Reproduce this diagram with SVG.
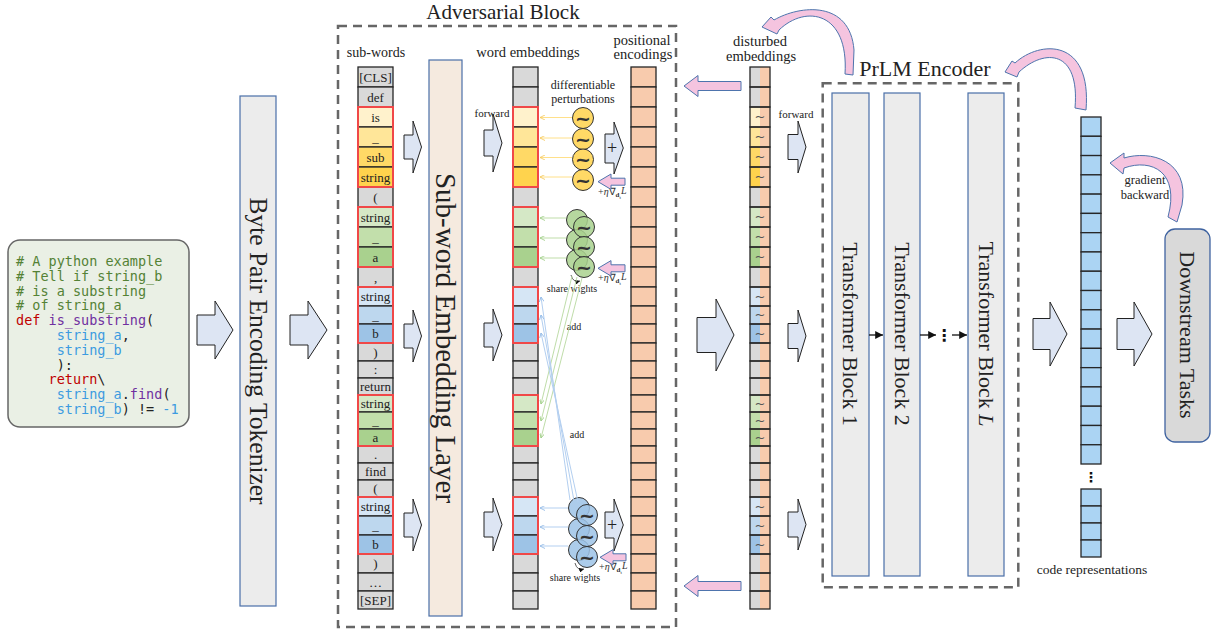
<svg xmlns="http://www.w3.org/2000/svg" width="1214" height="633" viewBox="0 0 1214 633">
<style>
.t{font-family:"Liberation Serif","Times New Roman",serif;fill:#222}
.mono{font-family:"DejaVu Sans Mono","Liberation Mono",monospace;font-size:13.5px}
.c{stroke:#262626;stroke-width:1.3}
.o{fill:none;stroke:#262626;stroke-width:1.3}
.gy{fill:#d9d9d9}.y1{fill:#fff2cc}.y2{fill:#ffe699}.y3{fill:#ffd966}.y4{fill:#ffd34d}
.g1{fill:#d5e8c6}.g2{fill:#c2dfab}.g3{fill:#a9d18e}
.b1{fill:#d6e6f5}.b2{fill:#bdd7ee}.b3{fill:#9dc3e6}
.pe{fill:#f8cbad}.cr{fill:#abd4f3}
.red{fill:none;stroke:#f04848;stroke-width:2}
.ba{fill:#dde5f3;stroke:#222;stroke-width:1}
.pk{fill:#f5c4df;stroke:#4e74ad;stroke-width:1}
.blk{stroke:#4a6fa8;stroke-width:1.2}
.dash{fill:none;stroke:#666;stroke-width:2.5;stroke-dasharray:9 6}
.sw{font-family:"Liberation Serif",serif;font-size:13px;fill:#222;text-anchor:middle}
.til{font-family:"DejaVu Sans",sans-serif;font-size:19px;font-weight:bold;fill:#333;text-anchor:middle}
.dt{font-family:"DejaVu Sans",sans-serif;font-size:13px;fill:#555;text-anchor:middle}
.eta{font-family:"Liberation Serif",serif;font-size:10px;fill:#333}
.cy{fill:#ffd966;stroke:#333;stroke-width:1}
.cg{fill:#a9d18e;stroke:#333;stroke-width:1;fill-opacity:0.85}
.cb{fill:#9dc3e6;stroke:#333;stroke-width:1;fill-opacity:0.85}
</style>
<defs>
<marker id="mk" viewBox="0 0 6 6" refX="6" refY="3" markerWidth="6" markerHeight="6" orient="auto"><path d="M0,0 L6,3 L0,6 z" fill="#111"/></marker>
<marker id="my" viewBox="0 0 6 6" refX="6" refY="3" markerWidth="5" markerHeight="5" orient="auto"><path d="M0,0 L6,3 L0,6" fill="none" stroke="#f5c95a" stroke-width="1"/></marker>
<marker id="mg" viewBox="0 0 6 6" refX="6" refY="3" markerWidth="5" markerHeight="5" orient="auto"><path d="M0,0 L6,3 L0,6" fill="none" stroke="#9cce84" stroke-width="1"/></marker>
<marker id="mb" viewBox="0 0 6 6" refX="6" refY="3" markerWidth="5" markerHeight="5" orient="auto"><path d="M0,0 L6,3 L0,6" fill="none" stroke="#8fb8e6" stroke-width="1"/></marker>
</defs>

<!-- code box -->
<g id="code">
<rect x="8" y="240" width="181" height="187" rx="12" fill="#eaf0e5" stroke="#666" stroke-width="1.5"/>
<g class="mono">
<text x="16" y="266" fill="#548235"># A python example</text>
<text x="16" y="280.8" fill="#548235"># Tell if string_b</text>
<text x="16" y="295.6" fill="#548235"># is a substring</text>
<text x="16" y="310.4" fill="#548235"># of string_a</text>
<text x="16" y="325.2"><tspan fill="#c00000">def</tspan> <tspan fill="#7030a0">is_substring</tspan><tspan fill="#222">(</tspan></text>
<text x="56.7" y="340" fill="#222"><tspan fill="#3c9be0">string_a</tspan>,</text>
<text x="56.7" y="354.8" fill="#3c9be0">string_b</text>
<text x="56.7" y="369.6" fill="#222">):</text>
<text x="48.5" y="384.4" fill="#222"><tspan fill="#c00000">return</tspan>\</text>
<text x="56.7" y="399.2" fill="#222"><tspan fill="#3c9be0">string_a</tspan>.<tspan fill="#7030a0">find</tspan>(</text>
<text x="56.7" y="414" fill="#222"><tspan fill="#3c9be0">string_b</tspan>) != <tspan fill="#3c9be0">-1</tspan></text>
</g>
</g>

<!-- tokenizer -->
<g id="tokenizer">
<rect x="240" y="96" width="36" height="510" fill="#ececec" class="blk"/>
<text class="t" font-size="25.5" text-anchor="middle" transform="translate(258,351) rotate(90)" y="8.5">Byte Pair Encoding Tokenizer</text>
</g>

<!-- Adversarial block -->
<g id="adversarial-block">
<rect x="338" y="26" width="338" height="601" class="dash"/>
<text class="t" x="503" y="19" font-size="21" text-anchor="middle">Adversarial Block</text>
</g>

<!-- sub-words -->
<g id="sub-words">
<text class="t" x="376" y="57" font-size="14" text-anchor="middle">sub-words</text>
<rect x="358" y="67" width="35" height="20" class="c gy"/>
<rect x="358" y="87" width="35" height="20" class="c gy"/>
<rect x="358" y="107" width="35" height="20" class="c y1"/>
<rect x="358" y="127" width="35" height="20" class="c y2"/>
<rect x="358" y="147" width="35" height="20" class="c y3"/>
<rect x="358" y="167" width="35" height="20" class="c y4"/>
<rect x="358" y="187" width="35" height="20" class="c gy"/>
<rect x="358" y="207" width="35" height="20" class="c g1"/>
<rect x="358" y="227" width="35" height="20" class="c g2"/>
<rect x="358" y="247" width="35" height="20" class="c g3"/>
<rect x="358" y="267" width="35" height="20" class="c gy"/>
<rect x="358" y="287" width="35" height="19" class="c b1"/>
<rect x="358" y="306" width="35" height="18" class="c b2"/>
<rect x="358" y="324" width="35" height="19" class="c b3"/>
<rect x="358" y="343" width="35" height="18" class="c gy"/>
<rect x="358" y="361" width="35" height="17" class="c gy"/>
<rect x="358" y="378" width="35" height="17" class="c gy"/>
<rect x="358" y="395" width="35" height="17" class="c g1"/>
<rect x="358" y="412" width="35" height="17" class="c g2"/>
<rect x="358" y="429" width="35" height="17" class="c g3"/>
<rect x="358" y="446" width="35" height="17" class="c gy"/>
<rect x="358" y="463" width="35" height="17" class="c gy"/>
<rect x="358" y="480" width="35" height="17" class="c gy"/>
<rect x="358" y="497" width="35" height="19" class="c b1"/>
<rect x="358" y="516" width="35" height="19" class="c b2"/>
<rect x="358" y="535" width="35" height="19" class="c b3"/>
<rect x="358" y="554" width="35" height="19" class="c gy"/>
<rect x="358" y="573" width="35" height="18" class="c gy"/>
<rect x="358" y="591" width="35" height="18" class="c gy"/>
<rect x="358" y="107" width="35" height="80" class="red"/>
<rect x="358" y="207" width="35" height="60" class="red"/>
<rect x="358" y="287" width="35" height="56" class="red"/>
<rect x="358" y="395" width="35" height="51" class="red"/>
<rect x="358" y="497" width="35" height="57" class="red"/>
<g class="sw">
<text x="375.5" y="81.5">[CLS]</text>
<text x="375.5" y="101.5">def</text>
<text x="375.5" y="121.5">is</text>
<text x="375.5" y="141.5">_</text>
<text x="375.5" y="161.5">sub</text>
<text x="375.5" y="181.5">string</text>
<text x="375.5" y="201.5">(</text>
<text x="375.5" y="221.5">string</text>
<text x="375.5" y="241.5">_</text>
<text x="375.5" y="261.5">a</text>
<text x="375.5" y="281.5">,</text>
<text x="375.5" y="301">string</text>
<text x="375.5" y="319.5">_</text>
<text x="375.5" y="338">b</text>
<text x="375.5" y="356.5">)</text>
<text x="375.5" y="374">:</text>
<text x="375.5" y="391">return</text>
<text x="375.5" y="408">string</text>
<text x="375.5" y="425">_</text>
<text x="375.5" y="442">a</text>
<text x="375.5" y="459">.</text>
<text x="375.5" y="476">find</text>
<text x="375.5" y="493">(</text>
<text x="375.5" y="511">string</text>
<text x="375.5" y="530">_</text>
<text x="375.5" y="549">b</text>
<text x="375.5" y="568">)</text>
<text x="375.5" y="586.5">…</text>
<text x="375.5" y="604.5">[SEP]</text>
</g>
</g>

<!-- sub-word embedding layer -->
<g id="embedding-layer">
<rect x="429" y="60" width="33" height="556" fill="#f5eadf" class="blk"/>
<text class="t" font-size="29" text-anchor="middle" transform="translate(445.5,338) rotate(90)" y="10">Sub-word Embedding Layer</text>
</g>

<!-- word embeddings -->
<g id="word-embeddings">
<text class="t" x="528" y="57" font-size="14.5" text-anchor="middle">word embeddings</text>
<rect x="513" y="67" width="25" height="20" class="c gy"/>
<rect x="513" y="87" width="25" height="20" class="c gy"/>
<rect x="513" y="107" width="25" height="20" class="c y1"/>
<rect x="513" y="127" width="25" height="20" class="c y2"/>
<rect x="513" y="147" width="25" height="20" class="c y3"/>
<rect x="513" y="167" width="25" height="20" class="c y4"/>
<rect x="513" y="187" width="25" height="20" class="c gy"/>
<rect x="513" y="207" width="25" height="20" class="c g1"/>
<rect x="513" y="227" width="25" height="20" class="c g2"/>
<rect x="513" y="247" width="25" height="20" class="c g3"/>
<rect x="513" y="267" width="25" height="20" class="c gy"/>
<rect x="513" y="287" width="25" height="19" class="c b1"/>
<rect x="513" y="306" width="25" height="18" class="c b2"/>
<rect x="513" y="324" width="25" height="19" class="c b3"/>
<rect x="513" y="343" width="25" height="18" class="c gy"/>
<rect x="513" y="361" width="25" height="17" class="c gy"/>
<rect x="513" y="378" width="25" height="17" class="c gy"/>
<rect x="513" y="395" width="25" height="17" class="c g1"/>
<rect x="513" y="412" width="25" height="17" class="c g2"/>
<rect x="513" y="429" width="25" height="17" class="c g3"/>
<rect x="513" y="446" width="25" height="17" class="c gy"/>
<rect x="513" y="463" width="25" height="17" class="c gy"/>
<rect x="513" y="480" width="25" height="17" class="c gy"/>
<rect x="513" y="497" width="25" height="19" class="c b1"/>
<rect x="513" y="516" width="25" height="19" class="c b2"/>
<rect x="513" y="535" width="25" height="19" class="c b3"/>
<rect x="513" y="554" width="25" height="19" class="c gy"/>
<rect x="513" y="573" width="25" height="18" class="c gy"/>
<rect x="513" y="591" width="25" height="18" class="c gy"/>
<rect x="513" y="107" width="25" height="80" class="red"/>
<rect x="513" y="207" width="25" height="60" class="red"/>
<rect x="513" y="287" width="25" height="56" class="red"/>
<rect x="513" y="395" width="25" height="51" class="red"/>
<rect x="513" y="497" width="25" height="57" class="red"/>
</g>

<!-- positional encodings -->
<g id="positional-encodings">
<text class="t" x="642" y="45" font-size="14.5" text-anchor="middle">positional</text>
<text class="t" x="643" y="59" font-size="14.5" text-anchor="middle">encodings</text>
<g class="c pe">
<rect x="631" y="67" width="25" height="20"/>
<rect x="631" y="87" width="25" height="20"/>
<rect x="631" y="107" width="25" height="20"/>
<rect x="631" y="127" width="25" height="20"/>
<rect x="631" y="147" width="25" height="20"/>
<rect x="631" y="167" width="25" height="20"/>
<rect x="631" y="187" width="25" height="20"/>
<rect x="631" y="207" width="25" height="20"/>
<rect x="631" y="227" width="25" height="20"/>
<rect x="631" y="247" width="25" height="20"/>
<rect x="631" y="267" width="25" height="20"/>
<rect x="631" y="287" width="25" height="19"/>
<rect x="631" y="306" width="25" height="18"/>
<rect x="631" y="324" width="25" height="19"/>
<rect x="631" y="343" width="25" height="18"/>
<rect x="631" y="361" width="25" height="17"/>
<rect x="631" y="378" width="25" height="17"/>
<rect x="631" y="395" width="25" height="17"/>
<rect x="631" y="412" width="25" height="17"/>
<rect x="631" y="429" width="25" height="17"/>
<rect x="631" y="446" width="25" height="17"/>
<rect x="631" y="463" width="25" height="17"/>
<rect x="631" y="480" width="25" height="17"/>
<rect x="631" y="497" width="25" height="19"/>
<rect x="631" y="516" width="25" height="19"/>
<rect x="631" y="535" width="25" height="19"/>
<rect x="631" y="554" width="25" height="19"/>
<rect x="631" y="573" width="25" height="18"/>
<rect x="631" y="591" width="25" height="18"/>
</g>
</g>

<!-- perturbations -->
<g id="perturbations">
<text class="t" x="583" y="89" font-size="12" text-anchor="middle">differentiable</text>
<text class="t" x="583" y="103" font-size="12" text-anchor="middle">perturbations</text>
<circle cx="583" cy="118" r="10.5" class="cy"/>
<circle cx="583" cy="139" r="10.5" class="cy"/>
<circle cx="583" cy="159.5" r="10.5" class="cy"/>
<circle cx="583" cy="180" r="10.5" class="cy"/>
<text class="til" x="583" y="124.5">~</text>
<text class="til" x="583" y="145.5">~</text>
<text class="til" x="583" y="166">~</text>
<text class="til" x="583" y="186.5">~</text>

<circle cx="577" cy="220" r="10.5" class="cg"/>
<circle cx="577" cy="240" r="10.5" class="cg"/>
<circle cx="577" cy="260" r="10.5" class="cg"/>
<circle cx="584" cy="227" r="10.5" class="cg"/>
<circle cx="584" cy="247" r="10.5" class="cg"/>
<circle cx="584" cy="267" r="10.5" class="cg"/>
<text class="til" x="584" y="233.5">~</text>
<text class="til" x="584" y="253.5">~</text>
<text class="til" x="584" y="273.5">~</text>
<path d="M571,275 Q573,283 580,281" fill="none" stroke="#333" stroke-width="0.8" marker-end="url(#mk)"/>
<text class="t" x="572" y="292" font-size="10" text-anchor="middle">share wights</text>

<circle cx="579" cy="508" r="10.5" class="cb"/>
<circle cx="579" cy="529" r="10.5" class="cb"/>
<circle cx="579" cy="550" r="10.5" class="cb"/>
<circle cx="587" cy="515" r="10.5" class="cb"/>
<circle cx="587" cy="536" r="10.5" class="cb"/>
<circle cx="587" cy="557" r="10.5" class="cb"/>
<text class="til" x="587" y="521.5">~</text>
<text class="til" x="587" y="542.5">~</text>
<text class="til" x="587" y="563.5">~</text>
<path d="M575,563 Q577,571 584,569" fill="none" stroke="#333" stroke-width="0.8" marker-end="url(#mk)"/>
<text class="t" x="575" y="581" font-size="10" text-anchor="middle">share wights</text>

<text class="t" x="574" y="330" font-size="10" text-anchor="middle">add</text>
<text class="t" x="577" y="438" font-size="10" text-anchor="middle">add</text>

<text class="eta" x="598" y="195">+<tspan font-style="italic">η</tspan>∇<tspan font-size="7" font-weight="bold" dy="2">d</tspan><tspan font-size="5" dy="1.5">t</tspan><tspan font-style="italic" dy="-5" font-size="10">L</tspan></text>
<text class="eta" x="598" y="281">+<tspan font-style="italic">η</tspan>∇<tspan font-size="7" font-weight="bold" dy="2">d</tspan><tspan font-size="5" dy="1.5">t</tspan><tspan font-style="italic" dy="-5" font-size="10">L</tspan></text>
<text class="eta" x="599" y="570">+<tspan font-style="italic">η</tspan>∇<tspan font-size="7" font-weight="bold" dy="2">d</tspan><tspan font-size="5" dy="1.5">t</tspan><tspan font-style="italic" dy="-5" font-size="10">L</tspan></text>
</g>

<!-- disturbed embeddings -->
<g id="disturbed-embeddings">
<text class="t" x="760" y="46" font-size="14.5" text-anchor="middle">disturbed</text>
<text class="t" x="761" y="61" font-size="14.5" text-anchor="middle">embeddings</text>
<rect x="760" y="67" width="10" height="542" class="pe"/>
<rect x="750" y="67" width="10" height="20" class="gy"/>
<rect x="750" y="87" width="10" height="20" class="gy"/>
<rect x="750" y="107" width="10" height="20" class="y1"/>
<rect x="750" y="127" width="10" height="20" class="y2"/>
<rect x="750" y="147" width="10" height="20" class="y3"/>
<rect x="750" y="167" width="10" height="20" class="y4"/>
<rect x="750" y="187" width="10" height="20" class="gy"/>
<rect x="750" y="207" width="10" height="20" class="g1"/>
<rect x="750" y="227" width="10" height="20" class="g2"/>
<rect x="750" y="247" width="10" height="20" class="g3"/>
<rect x="750" y="267" width="10" height="20" class="gy"/>
<rect x="750" y="287" width="10" height="19" class="b1"/>
<rect x="750" y="306" width="10" height="18" class="b2"/>
<rect x="750" y="324" width="10" height="19" class="b3"/>
<rect x="750" y="343" width="10" height="18" class="gy"/>
<rect x="750" y="361" width="10" height="17" class="gy"/>
<rect x="750" y="378" width="10" height="17" class="gy"/>
<rect x="750" y="395" width="10" height="17" class="g1"/>
<rect x="750" y="412" width="10" height="17" class="g2"/>
<rect x="750" y="429" width="10" height="17" class="g3"/>
<rect x="750" y="446" width="10" height="17" class="gy"/>
<rect x="750" y="463" width="10" height="17" class="gy"/>
<rect x="750" y="480" width="10" height="17" class="gy"/>
<rect x="750" y="497" width="10" height="19" class="b1"/>
<rect x="750" y="516" width="10" height="19" class="b2"/>
<rect x="750" y="535" width="10" height="19" class="b3"/>
<rect x="750" y="554" width="10" height="19" class="gy"/>
<rect x="750" y="573" width="10" height="18" class="gy"/>
<rect x="750" y="591" width="10" height="18" class="gy"/>
<g class="o">
<rect x="750" y="67" width="20" height="20"/>
<rect x="750" y="87" width="20" height="20"/>
<rect x="750" y="107" width="20" height="20"/>
<rect x="750" y="127" width="20" height="20"/>
<rect x="750" y="147" width="20" height="20"/>
<rect x="750" y="167" width="20" height="20"/>
<rect x="750" y="187" width="20" height="20"/>
<rect x="750" y="207" width="20" height="20"/>
<rect x="750" y="227" width="20" height="20"/>
<rect x="750" y="247" width="20" height="20"/>
<rect x="750" y="267" width="20" height="20"/>
<rect x="750" y="287" width="20" height="19"/>
<rect x="750" y="306" width="20" height="18"/>
<rect x="750" y="324" width="20" height="19"/>
<rect x="750" y="343" width="20" height="18"/>
<rect x="750" y="361" width="20" height="17"/>
<rect x="750" y="378" width="20" height="17"/>
<rect x="750" y="395" width="20" height="17"/>
<rect x="750" y="412" width="20" height="17"/>
<rect x="750" y="429" width="20" height="17"/>
<rect x="750" y="446" width="20" height="17"/>
<rect x="750" y="463" width="20" height="17"/>
<rect x="750" y="480" width="20" height="17"/>
<rect x="750" y="497" width="20" height="19"/>
<rect x="750" y="516" width="20" height="19"/>
<rect x="750" y="535" width="20" height="19"/>
<rect x="750" y="554" width="20" height="19"/>
<rect x="750" y="573" width="20" height="18"/>
<rect x="750" y="591" width="20" height="18"/>
</g>
<g class="dt">
<text x="760" y="121">~</text><text x="760" y="141">~</text><text x="760" y="161">~</text><text x="760" y="181">~</text>
<text x="760" y="221">~</text><text x="760" y="241">~</text><text x="760" y="261">~</text>
<text x="760" y="300.5">~</text><text x="760" y="319">~</text><text x="760" y="337.5">~</text>
<text x="760" y="407.5">~</text><text x="760" y="424.5">~</text><text x="760" y="441.5">~</text>
<text x="760" y="510.5">~</text><text x="760" y="529.5">~</text><text x="760" y="548.5">~</text>
</g>
</g>

<!-- PrLM encoder -->
<g id="prlm-encoder">
<rect x="822.7" y="83.3" width="195.6" height="504" class="dash"/>
<text class="t" x="925" y="76" font-size="22" text-anchor="middle">PrLM Encoder</text>
</g>
<g id="block-1">
<rect x="832" y="93" width="37" height="483" fill="#ececec" class="blk"/>
<text class="t" font-size="22" text-anchor="middle" transform="translate(850.5,334) rotate(90)" y="7.5">Transformer Block 1</text>
</g>
<g id="block-2">
<rect x="884" y="93" width="36" height="483" fill="#ececec" class="blk"/>
<text class="t" font-size="22" text-anchor="middle" transform="translate(902,334) rotate(90)" y="7.5">Transformer Block 2</text>
</g>
<g id="block-L">
<rect x="968" y="93" width="36" height="483" fill="#ececec" class="blk"/>
<text class="t" font-size="22" text-anchor="middle" transform="translate(986,334) rotate(90)" y="7.5">Transformer Block <tspan font-style="italic">L</tspan></text>
</g>

<!-- code representations -->
<g id="code-representations">
<g class="c cr">
<rect x="1081" y="117" width="20" height="19.28"/>
<rect x="1081" y="136.28" width="20" height="19.28"/>
<rect x="1081" y="155.56" width="20" height="19.28"/>
<rect x="1081" y="174.84" width="20" height="19.28"/>
<rect x="1081" y="194.12" width="20" height="19.28"/>
<rect x="1081" y="213.4" width="20" height="19.28"/>
<rect x="1081" y="232.68" width="20" height="19.28"/>
<rect x="1081" y="251.96" width="20" height="19.28"/>
<rect x="1081" y="271.24" width="20" height="19.28"/>
<rect x="1081" y="290.52" width="20" height="19.28"/>
<rect x="1081" y="309.8" width="20" height="19.28"/>
<rect x="1081" y="329.08" width="20" height="19.28"/>
<rect x="1081" y="348.36" width="20" height="19.28"/>
<rect x="1081" y="367.64" width="20" height="19.28"/>
<rect x="1081" y="386.92" width="20" height="19.28"/>
<rect x="1081" y="406.2" width="20" height="19.28"/>
<rect x="1081" y="425.48" width="20" height="19.28"/>
<rect x="1081" y="444.76" width="20" height="19.24"/>
<rect x="1081" y="489" width="20" height="17"/>
<rect x="1081" y="506" width="20" height="17"/>
<rect x="1081" y="523" width="20" height="17"/>
<rect x="1081" y="540" width="20" height="17"/>
</g>
<text x="1091" y="482" font-family="DejaVu Sans,sans-serif" font-size="14" font-weight="bold" fill="#111" text-anchor="middle">⋮</text>
<text class="t" x="1092" y="574" font-size="13.5" text-anchor="middle">code representations</text>
</g>

<!-- downstream -->
<g id="downstream">
<rect x="1165" y="229" width="45" height="213" rx="10" fill="#d9d9d9" stroke="#3f63a0" stroke-width="1.3"/>
<text class="t" font-size="22" text-anchor="middle" transform="translate(1187.5,335) rotate(90)" y="7.5">Downstream Tasks</text>
</g>

<!-- connectors -->
<g id="connectors">
<polygon class="ba" points="197,315 215,315 215,301 233,330 215,359 215,345 197,345"/>
<polygon class="ba" points="290,315 308,315 308,301 327,330 308,359 308,345 290,345"/>
<polygon class="ba" points="404,135 413,135 413,121 421.5,147 413,173 413,159 404,159"/>
<polygon class="ba" points="404,324 413,324 413,310 421.5,336 413,362 413,348 404,348"/>
<polygon class="ba" points="404,513 413,513 413,499 421.5,525 413,551 413,537 404,537"/>
<text class="t" x="492" y="117" font-size="11" text-anchor="middle">forward</text>
<polygon class="ba" points="484,130 493,130 493,114 502,143 493,172 493,156 484,156"/>
<polygon class="ba" points="484,323 493,323 493,309 502,335 493,361 493,347 484,347"/>
<polygon class="ba" points="484,512 493,512 493,498 502,524.5 493,551 493,537 484,537"/>
<polygon class="ba" points="605,134 614,134 614,122 623.3,148 614,174 614,163 605,163"/>
<polygon class="ba" points="605,512 614,512 614,499 623.3,525 614,551 614,538 605,538"/>
<text class="t" x="612" y="154" font-size="18" text-anchor="middle">+</text>
<text class="t" x="612" y="531" font-size="18" text-anchor="middle">+</text>
<polygon class="ba" points="697,317.5 716,317.5 716,299 734,335 716,371 716,352.5 697,352.5"/>
<text class="t" x="796" y="118" font-size="11" text-anchor="middle">forward</text>
<polygon class="ba" points="788,134.5 798,134.5 798,121 806,147 798,173 798,159.5 788,159.5"/>
<polygon class="ba" points="788,323.5 798,323.5 798,310 806,336 798,362 798,348.5 788,348.5"/>
<polygon class="ba" points="788,512 798,512 798,499 806,524.5 798,550 798,537 788,537"/>
<polygon class="ba" points="1033,318.5 1050,318.5 1050,302 1067,334 1050,366 1050,349.5 1033,349.5"/>
<polygon class="ba" points="1117,318.5 1134,318.5 1134,302 1152,334 1134,366 1134,349.5 1117,349.5"/>

<!-- perturbation arrows -->
<g stroke="#ffe08a" stroke-width="1" marker-end="url(#my)">
<line x1="572" y1="117.5" x2="540" y2="117.5"/>
<line x1="572" y1="138" x2="540" y2="138"/>
<line x1="572" y1="157.5" x2="540" y2="157.5"/>
<line x1="572" y1="177" x2="540" y2="177"/>
</g>
<g stroke="#bfdda9" stroke-width="1" marker-end="url(#mg)">
<line x1="566" y1="218" x2="540" y2="218"/>
<line x1="566" y1="238" x2="540" y2="238"/>
<line x1="566" y1="258" x2="540" y2="258"/>
<line x1="572" y1="276" x2="541" y2="404"/>
<line x1="577" y1="277" x2="541" y2="421"/>
<line x1="582" y1="278" x2="541" y2="438"/>
</g>
<g stroke="#b3cff0" stroke-width="1" marker-end="url(#mb)">
<line x1="568" y1="508" x2="540" y2="508"/>
<line x1="568" y1="527" x2="540" y2="527"/>
<line x1="568" y1="546" x2="540" y2="546"/>
<line x1="570" y1="500" x2="541" y2="297"/>
<line x1="574" y1="501" x2="541" y2="315"/>
<line x1="578" y1="502" x2="541" y2="333"/>
</g>

<!-- small pink gradient arrows -->
<polygon class="pk" points="625,178.2 611,178.2 611,174 598,181.7 611,189.4 611,185.2 625,185.2"/>
<polygon class="pk" points="625,264.8 611,264.8 611,260.6 598,268.3 611,276 611,271.8 625,271.8"/>
<polygon class="pk" points="626,553.8 613,553.8 613,549.6 600,557.3 613,565 613,560.8 626,560.8"/>

<!-- pink arrows from disturbed embeddings -->
<polygon class="pk" points="741,81.5 698,81.5 698,75.5 684,86 698,96.5 698,90.5 741,90.5"/>
<polygon class="pk" points="741,581.5 698,581.5 698,575.5 684,586 698,596.5 698,590.5 741,590.5"/>

<!-- transformer block arrows -->
<g stroke="#111" stroke-width="1.3" marker-end="url(#mk)">
<line x1="869" y1="335" x2="883" y2="335"/>
<line x1="920" y1="335" x2="936" y2="335"/>
<line x1="952" y1="335" x2="967" y2="335"/>
</g>
<text x="944" y="341" font-family="DejaVu Sans,sans-serif" font-size="16" font-weight="bold" fill="#111" text-anchor="middle">⋮</text>

<!-- curved gradient arrows -->
<path class="pk" d="M1110,163 L1124,153 L1124,158 C1150,150 1190,160 1182,205 L1177,222 L1168,217 C1180,172 1152,158 1124,168 L1123,174 Z"/>
<text class="t" x="1145" y="184" font-size="12.5" text-anchor="middle">gradient</text>
<text class="t" x="1145" y="199" font-size="12.5" text-anchor="middle">backward</text>
<path class="pk" d="M1005,72 L1012,61 L1015,63 C1040,40 1092,38 1086,110 L1075,108 C1080,50 1045,48 1019,72 L1017,77 Z"/>
<path class="pk" d="M762,27 L771,17 L774,20 C800,5 850,0 854,50 L853,75 L845,74 C849,12 806,4 779,30 L777,34 Z"/>
</g>
</svg>
